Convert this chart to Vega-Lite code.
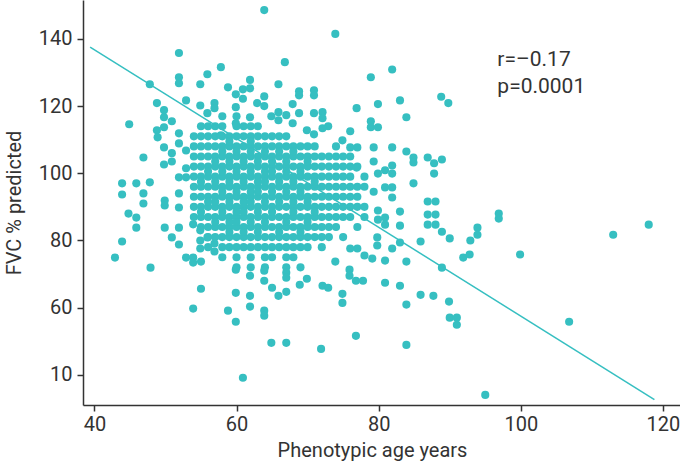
{
"$schema": "https://vega.github.io/schema/vega-lite/v6.json",
"width": 597,
"height": 405,
"autosize": {"type": "none"},
"padding": {"left": 83, "top": 0, "right": 0, "bottom": 63},
"background": "white",
"view": {"stroke": null},
"config": {
  "font": "Roboto",
  "axis": {"grid": false, "domainColor": "#333333", "domainWidth": 1.5, "tickColor": "#333333", "tickWidth": 1.5, "tickSize": 6, "labelColor": "#333333", "titleColor": "#333333", "labelFont": "Roboto", "titleFont": "Roboto", "labelFontSize": 20, "titleFontSize": 20, "titleFontWeight": "normal"}
},
"datasets": {
"pts": [
{"age":54,"fvc":87},{"age":54,"fvc":90},{"age":54,"fvc":93},{"age":54,"fvc":96},{"age":54,"fvc":99},{"age":54,"fvc":102},{"age":54,"fvc":105},{"age":54,"fvc":108},{"age":54,"fvc":111},
{"age":55,"fvc":84},{"age":55,"fvc":87},{"age":55,"fvc":90},{"age":55,"fvc":93},{"age":55,"fvc":96},{"age":55,"fvc":99},{"age":55,"fvc":102},{"age":55,"fvc":105},{"age":55,"fvc":108},{"age":55,"fvc":111},{"age":55,"fvc":114},
{"age":56,"fvc":78},{"age":56,"fvc":81},{"age":56,"fvc":84},{"age":56,"fvc":87},{"age":56,"fvc":90},{"age":56,"fvc":93},{"age":56,"fvc":96},{"age":56,"fvc":99},{"age":56,"fvc":102},{"age":56,"fvc":105},{"age":56,"fvc":108},{"age":56,"fvc":111},{"age":56,"fvc":114},
{"age":57,"fvc":81},{"age":57,"fvc":84},{"age":57,"fvc":87},{"age":57,"fvc":90},{"age":57,"fvc":93},{"age":57,"fvc":96},{"age":57,"fvc":99},{"age":57,"fvc":102},{"age":57,"fvc":105},{"age":57,"fvc":108},{"age":57,"fvc":111},{"age":57,"fvc":114},
{"age":58,"fvc":75},{"age":58,"fvc":78},{"age":58,"fvc":81},{"age":58,"fvc":84},{"age":58,"fvc":87},{"age":58,"fvc":90},{"age":58,"fvc":93},{"age":58,"fvc":96},{"age":58,"fvc":99},{"age":58,"fvc":102},{"age":58,"fvc":105},{"age":58,"fvc":108},{"age":58,"fvc":111},{"age":58,"fvc":114},{"age":58,"fvc":117},
{"age":59,"fvc":78},{"age":59,"fvc":81},{"age":59,"fvc":84},{"age":59,"fvc":87},{"age":59,"fvc":90},{"age":59,"fvc":93},{"age":59,"fvc":96},{"age":59,"fvc":99},{"age":59,"fvc":102},{"age":59,"fvc":105},{"age":59,"fvc":108},{"age":59,"fvc":111},
{"age":60,"fvc":72},{"age":60,"fvc":75},{"age":60,"fvc":78},{"age":60,"fvc":81},{"age":60,"fvc":84},{"age":60,"fvc":87},{"age":60,"fvc":90},{"age":60,"fvc":93},{"age":60,"fvc":96},{"age":60,"fvc":99},{"age":60,"fvc":102},{"age":60,"fvc":105},{"age":60,"fvc":108},{"age":60,"fvc":111},{"age":60,"fvc":114},{"age":60,"fvc":117},
{"age":61,"fvc":78},{"age":61,"fvc":81},{"age":61,"fvc":84},{"age":61,"fvc":87},{"age":61,"fvc":90},{"age":61,"fvc":93},{"age":61,"fvc":96},{"age":61,"fvc":99},{"age":61,"fvc":102},{"age":61,"fvc":105},{"age":61,"fvc":108},{"age":61,"fvc":111},{"age":61,"fvc":114},
{"age":62,"fvc":72},{"age":62,"fvc":75},{"age":62,"fvc":78},{"age":62,"fvc":81},{"age":62,"fvc":84},{"age":62,"fvc":87},{"age":62,"fvc":90},{"age":62,"fvc":93},{"age":62,"fvc":96},{"age":62,"fvc":99},{"age":62,"fvc":102},{"age":62,"fvc":105},{"age":62,"fvc":108},{"age":62,"fvc":111},{"age":62,"fvc":114},
{"age":63,"fvc":78},{"age":63,"fvc":81},{"age":63,"fvc":84},{"age":63,"fvc":87},{"age":63,"fvc":90},{"age":63,"fvc":93},{"age":63,"fvc":96},{"age":63,"fvc":99},{"age":63,"fvc":102},{"age":63,"fvc":105},{"age":63,"fvc":108},{"age":63,"fvc":111},{"age":63,"fvc":114},
{"age":64,"fvc":72},{"age":64,"fvc":75},{"age":64,"fvc":78},{"age":64,"fvc":81},{"age":64,"fvc":84},{"age":64,"fvc":87},{"age":64,"fvc":90},{"age":64,"fvc":93},{"age":64,"fvc":96},{"age":64,"fvc":99},{"age":64,"fvc":102},{"age":64,"fvc":105},{"age":64,"fvc":108},{"age":64,"fvc":111},
{"age":65,"fvc":75},{"age":65,"fvc":78},{"age":65,"fvc":81},{"age":65,"fvc":84},{"age":65,"fvc":87},{"age":65,"fvc":90},{"age":65,"fvc":93},{"age":65,"fvc":96},{"age":65,"fvc":99},{"age":65,"fvc":102},{"age":65,"fvc":105},{"age":65,"fvc":108},{"age":65,"fvc":111},
{"age":66,"fvc":78},{"age":66,"fvc":81},{"age":66,"fvc":84},{"age":66,"fvc":87},{"age":66,"fvc":90},{"age":66,"fvc":93},{"age":66,"fvc":96},{"age":66,"fvc":99},{"age":66,"fvc":102},{"age":66,"fvc":105},{"age":66,"fvc":108},{"age":66,"fvc":111},
{"age":67,"fvc":72},{"age":67,"fvc":75},{"age":67,"fvc":78},{"age":67,"fvc":81},{"age":67,"fvc":84},{"age":67,"fvc":87},{"age":67,"fvc":90},{"age":67,"fvc":93},{"age":67,"fvc":96},{"age":67,"fvc":99},{"age":67,"fvc":102},{"age":67,"fvc":105},{"age":67,"fvc":108},{"age":67,"fvc":111},
{"age":68,"fvc":75},{"age":68,"fvc":78},{"age":68,"fvc":81},{"age":68,"fvc":84},{"age":68,"fvc":87},{"age":68,"fvc":90},{"age":68,"fvc":93},{"age":68,"fvc":96},{"age":68,"fvc":99},{"age":68,"fvc":102},{"age":68,"fvc":105},{"age":68,"fvc":108},
{"age":69,"fvc":72},{"age":69,"fvc":78},{"age":69,"fvc":81},{"age":69,"fvc":84},{"age":69,"fvc":87},{"age":69,"fvc":90},{"age":69,"fvc":93},{"age":69,"fvc":96},{"age":69,"fvc":99},{"age":69,"fvc":102},{"age":69,"fvc":105},{"age":69,"fvc":108},
{"age":70,"fvc":78},{"age":70,"fvc":81},{"age":70,"fvc":84},{"age":70,"fvc":87},{"age":70,"fvc":90},{"age":70,"fvc":93},{"age":70,"fvc":96},{"age":70,"fvc":99},{"age":70,"fvc":102},{"age":70,"fvc":105},{"age":70,"fvc":108},
{"age":71,"fvc":81},{"age":71,"fvc":84},{"age":71,"fvc":87},{"age":71,"fvc":90},{"age":71,"fvc":93},{"age":71,"fvc":96},{"age":71,"fvc":99},{"age":71,"fvc":102},{"age":71,"fvc":105},{"age":71,"fvc":108},
{"age":72,"fvc":78},{"age":72,"fvc":81},{"age":72,"fvc":84},{"age":72,"fvc":87},{"age":72,"fvc":90},{"age":72,"fvc":93},{"age":72,"fvc":96},{"age":72,"fvc":99},{"age":72,"fvc":102},{"age":72,"fvc":105},
{"age":73,"fvc":81},{"age":73,"fvc":84},{"age":73,"fvc":87},{"age":73,"fvc":90},{"age":73,"fvc":93},{"age":73,"fvc":96},{"age":73,"fvc":99},{"age":73,"fvc":102},{"age":73,"fvc":105},
{"age":74,"fvc":84},{"age":74,"fvc":87},{"age":74,"fvc":90},{"age":74,"fvc":93},{"age":74,"fvc":96},{"age":74,"fvc":99},{"age":74,"fvc":102},{"age":74,"fvc":105},{"age":74,"fvc":108},
{"age":75,"fvc":81},{"age":75,"fvc":87},{"age":75,"fvc":90},{"age":75,"fvc":93},{"age":75,"fvc":96},{"age":75,"fvc":99},{"age":75,"fvc":102},{"age":75,"fvc":105},
{"age":76,"fvc":87},{"age":76,"fvc":90},{"age":76,"fvc":93},{"age":76,"fvc":96},{"age":76,"fvc":99},{"age":76,"fvc":102},{"age":76,"fvc":105},
{"age":77,"fvc":84},{"age":77,"fvc":90},{"age":77,"fvc":93},{"age":77,"fvc":96},{"age":77,"fvc":102},
{"age":78,"fvc":87},{"age":78,"fvc":90},{"age":78,"fvc":96},{"age":78,"fvc":99},
{"age":57,"fvc":85.5},{"age":57,"fvc":91.5},{"age":57,"fvc":97.5},{"age":57,"fvc":103.5},
{"age":58,"fvc":88.5},{"age":58,"fvc":94.5},{"age":58,"fvc":100.5},{"age":58,"fvc":106.5},
{"age":59,"fvc":82.5},{"age":59,"fvc":85.5},{"age":59,"fvc":91.5},{"age":59,"fvc":97.5},{"age":59,"fvc":103.5},{"age":59,"fvc":109.5},
{"age":60,"fvc":85.5},{"age":60,"fvc":88.5},{"age":60,"fvc":94.5},{"age":60,"fvc":100.5},{"age":60,"fvc":106.5},
{"age":61,"fvc":82.5},{"age":61,"fvc":88.5},{"age":61,"fvc":91.5},{"age":61,"fvc":97.5},{"age":61,"fvc":103.5},
{"age":62,"fvc":85.5},{"age":62,"fvc":91.5},{"age":62,"fvc":94.5},{"age":62,"fvc":100.5},{"age":62,"fvc":106.5},{"age":62,"fvc":109.5},
{"age":63,"fvc":82.5},{"age":63,"fvc":88.5},{"age":63,"fvc":94.5},{"age":63,"fvc":97.5},{"age":63,"fvc":103.5},
{"age":64,"fvc":85.5},{"age":64,"fvc":91.5},{"age":64,"fvc":97.5},{"age":64,"fvc":100.5},{"age":64,"fvc":106.5},
{"age":65,"fvc":88.5},{"age":65,"fvc":94.5},{"age":65,"fvc":100.5},{"age":65,"fvc":103.5},
{"age":66,"fvc":82.5},{"age":66,"fvc":91.5},{"age":66,"fvc":97.5},{"age":66,"fvc":106.5},
{"age":67,"fvc":85.5},{"age":67,"fvc":94.5},{"age":67,"fvc":100.5},{"age":67,"fvc":103.5},
{"age":68,"fvc":88.5},{"age":68,"fvc":91.5},{"age":68,"fvc":97.5},{"age":68,"fvc":106.5},
{"age":69,"fvc":82.5},{"age":69,"fvc":94.5},{"age":69,"fvc":100.5},
{"age":70,"fvc":85.5},{"age":70,"fvc":91.5},{"age":70,"fvc":103.5},
{"age":71,"fvc":88.5},{"age":71,"fvc":97.5},
{"age":55,"fvc":88.5},{"age":55,"fvc":97.5},
{"age":56,"fvc":91.5},{"age":56,"fvc":100.5},
{"age":63.9,"fvc":148.6},{"age":73.9,"fvc":141.5},{"age":51.9,"fvc":135.8},{"age":66.8,"fvc":133.1},{"age":57.8,"fvc":131.6},{"age":81.9,"fvc":130.9},{"age":55.9,"fvc":129.5},{"age":78.9,"fvc":128.6},{"age":61.9,"fvc":127.8},{"age":51.9,"fvc":128.6},{"age":51.9,"fvc":126.8},{"age":47.8,"fvc":126.5},{"age":54.9,"fvc":126.5},{"age":65.9,"fvc":126.5},{"age":58.8,"fvc":125.6},{"age":61.9,"fvc":125.3},{"age":60.9,"fvc":125},{"age":68.8,"fvc":124.4},{"age":68.8,"fvc":123.2},{"age":70.9,"fvc":124.7},{"age":70.9,"fvc":123.2},{"age":59.9,"fvc":123.5},{"age":60.9,"fvc":122.2},{"age":63.9,"fvc":122.9},{"age":88.8,"fvc":122.8},{"age":89.8,"fvc":120.9},{"age":48.8,"fvc":120.9},{"age":52.9,"fvc":121.7},{"age":83,"fvc":121.7},{"age":79.9,"fvc":120.6},{"age":62.9,"fvc":120.9},{"age":67.9,"fvc":120.6},{"age":56.9,"fvc":120.9},{"age":54.9,"fvc":120.2},{"age":56.9,"fvc":119.4},{"age":59.9,"fvc":119.7},{"age":63.9,"fvc":120},{"age":76.9,"fvc":119.4},{"age":49.8,"fvc":118.8},{"age":49.8,"fvc":116.7},{"age":55.9,"fvc":117.9},{"age":68.8,"fvc":117.9},{"age":70.9,"fvc":117.9},{"age":72.1,"fvc":118.2},{"age":72.1,"fvc":116.4},{"age":65.9,"fvc":118.2},{"age":61.9,"fvc":116.7},{"age":64.9,"fvc":117},{"age":67,"fvc":117.3},{"age":83.9,"fvc":116.7},{"age":78.9,"fvc":115.5},{"age":50.9,"fvc":115.5},{"age":65.9,"fvc":115.8},{"age":59.9,"fvc":114.9},{"age":67.9,"fvc":114.9},{"age":44.9,"fvc":114.6},{"age":78.9,"fvc":113.7},{"age":79.9,"fvc":113.7},{"age":72.9,"fvc":114},{"age":72.1,"fvc":113.4},{"age":69.9,"fvc":112.8},{"age":76,"fvc":112.5},{"age":48.8,"fvc":112.8},{"age":49.8,"fvc":113.7},{"age":51.9,"fvc":111.9},{"age":57.8,"fvc":111.3},{"age":70.9,"fvc":111.6},{"age":74.9,"fvc":109.8},{"age":51.9,"fvc":108.9},{"age":48.9,"fvc":110.7},{"age":49.8,"fvc":107.7},{"age":52.9,"fvc":106.8},{"age":50.9,"fvc":106},{"age":76,"fvc":107.7},{"age":77,"fvc":107.7},{"age":79.3,"fvc":107.7},{"age":81.9,"fvc":107.7},{"age":83.9,"fvc":106.5},{"age":46.9,"fvc":104.7},{"age":50.9,"fvc":103.5},{"age":49.8,"fvc":102.6},{"age":52.9,"fvc":101.5},{"age":84.9,"fvc":104.7},{"age":84.9,"fvc":103.2},{"age":86.9,"fvc":104.7},{"age":87.8,"fvc":103},{"age":88.9,"fvc":104.1},{"age":87.8,"fvc":99.9},{"age":79.3,"fvc":103.5},{"age":81.9,"fvc":102.3},{"age":81.9,"fvc":99.9},{"age":80.9,"fvc":100.9},{"age":79.9,"fvc":99.9},{"age":76.9,"fvc":101.7},{"age":51.9,"fvc":98.8},{"age":52.9,"fvc":98.8},{"age":43.9,"fvc":97},{"age":45.9,"fvc":97},{"age":47.8,"fvc":97.3},{"age":84.9,"fvc":97},{"age":80.9,"fvc":95.8},{"age":81.9,"fvc":95.8},{"age":81.9,"fvc":92.8},{"age":79.3,"fvc":94.5},{"age":43.9,"fvc":93.7},{"age":46.9,"fvc":94},{"age":46.9,"fvc":91},{"age":51.9,"fvc":94},{"age":49.9,"fvc":91.9},{"age":49.9,"fvc":90.4},{"age":51.9,"fvc":89.8},{"age":53.9,"fvc":84.8},{"age":44.8,"fvc":88},{"age":45.9,"fvc":86.8},{"age":45.9,"fvc":83.8},{"age":49.9,"fvc":83.8},{"age":51.9,"fvc":83.8},{"age":86.9,"fvc":91.6},{"age":88,"fvc":91.6},{"age":86.9,"fvc":87.7},{"age":88,"fvc":87.7},{"age":86.9,"fvc":84.7},{"age":88,"fvc":84.7},{"age":83,"fvc":88.6},{"age":83,"fvc":84.4},{"age":79.9,"fvc":88.9},{"age":79.9,"fvc":86.2},{"age":80.9,"fvc":86.8},{"age":80.9,"fvc":84.7},{"age":88.9,"fvc":82.6},{"age":90,"fvc":80.6},{"age":85.9,"fvc":79.7},{"age":83,"fvc":79.4},{"age":79.8,"fvc":80.9},{"age":79.8,"fvc":78.5},{"age":81.9,"fvc":77.6},{"age":54.9,"fvc":83},{"age":54.9,"fvc":80},{"age":54.9,"fvc":77.6},{"age":55.9,"fvc":80.9},{"age":56.9,"fvc":79.1},{"age":56.9,"fvc":76.7},{"age":50.9,"fvc":80.9},{"age":51.9,"fvc":78.8},{"age":43.9,"fvc":79.7},{"age":42.9,"fvc":74.9},{"age":47.9,"fvc":71.9},{"age":52.9,"fvc":74.9},{"age":53.9,"fvc":74.9},{"age":53.9,"fvc":73.4},{"age":55,"fvc":73.7},{"age":76,"fvc":77.6},{"age":77,"fvc":77.6},{"age":78,"fvc":75.5},{"age":79.1,"fvc":74.6},{"age":80.9,"fvc":74},{"age":83.9,"fvc":73.7},{"age":88.9,"fvc":71.9},{"age":91.9,"fvc":74.9},{"age":92.8,"fvc":75.8},{"age":93.9,"fvc":83.8},{"age":93.9,"fvc":81.7},{"age":92.9,"fvc":80},{"age":96.9,"fvc":88},{"age":96.9,"fvc":86.5},{"age":99.9,"fvc":75.8},{"age":113,"fvc":81.7},{"age":118,"fvc":84.7},{"age":106.8,"fvc":55.8},{"age":95,"fvc":34},{"age":73.9,"fvc":73.7},{"age":75.9,"fvc":71.3},{"age":75.9,"fvc":69.5},{"age":76.8,"fvc":68},{"age":77.8,"fvc":68},{"age":80.9,"fvc":67.4},{"age":83,"fvc":66.5},{"age":83.9,"fvc":60.9},{"age":85.9,"fvc":63.8},{"age":87.7,"fvc":63.5},{"age":89.9,"fvc":61.8},{"age":90,"fvc":57},{"age":91,"fvc":57},{"age":91,"fvc":54.9},{"age":83.9,"fvc":48.9},{"age":76.8,"fvc":51.6},{"age":74.9,"fvc":64.1},{"age":74.9,"fvc":61.4},{"age":72.1,"fvc":66.5},{"age":72.9,"fvc":65.9},{"age":69.9,"fvc":68.6},{"age":68.9,"fvc":66.8},{"age":67,"fvc":70.4},{"age":67,"fvc":68.9},{"age":65,"fvc":65.9},{"age":65.9,"fvc":63.5},{"age":67,"fvc":64.7},{"age":63.9,"fvc":71},{"age":63.9,"fvc":68},{"age":61.9,"fvc":69.5},{"age":59.9,"fvc":71.3},{"age":55,"fvc":65.6},{"age":59.9,"fvc":64.4},{"age":61.9,"fvc":63.5},{"age":61.9,"fvc":60.3},{"age":58.8,"fvc":59.1},{"age":59.9,"fvc":55.8},{"age":63.9,"fvc":59.1},{"age":63.9,"fvc":57.6},{"age":53.9,"fvc":59.7},{"age":64.9,"fvc":49.5},{"age":67,"fvc":49.5},{"age":71.9,"fvc":47.7},{"age":60.9,"fvc":39.1}
],
"fit": [{"age": 39.4, "fvc": 137.6}, {"age": 118.8, "fvc": 32.6}],
"ann": [{"age": 96.7, "fvc": 131.9, "label": "r=–0.17"}, {"age": 96.7, "fvc": 123.9, "label": "p=0.0001"}]
},
"layer": [
  {
    "data": {"name": "pts"},
    "mark": {"type": "circle", "size": 66, "color": "#36bfc1", "opacity": 1},
    "encoding": {
      "x": {"field": "age", "type": "quantitative", "scale": {"domain": [38.4, 122.4], "nice": false, "zero": false}, "axis": {"values": [40, 60, 80, 100, 120], "title": "Phenotypic age years", "labelPadding": 3, "titlePadding": 6, "titleX": 289, "titleAlign": "center"}},
      "y": {"field": "fvc", "type": "quantitative", "scale": {"domain": [31, 151.6], "nice": false, "zero": false}, "axis": {"values": [40, 60, 80, 100, 120, 140], "labelExpr": "datum.value == 40 ? '10' : datum.label", "title": "FVC % predicted", "labelPadding": 5, "titlePadding": 14}}
    }
  },
  {
    "data": {"name": "fit"},
    "mark": {"type": "line", "color": "#36bfc1", "strokeWidth": 1.5},
    "encoding": {
      "x": {"field": "age", "type": "quantitative"},
      "y": {"field": "fvc", "type": "quantitative"}
    }
  },
  {
    "data": {"name": "ann"},
    "mark": {"type": "text", "align": "left", "baseline": "alphabetic", "fontSize": 21, "font": "Roboto", "color": "#333333"},
    "encoding": {
      "x": {"field": "age", "type": "quantitative"},
      "y": {"field": "fvc", "type": "quantitative"},
      "text": {"field": "label", "type": "nominal"}
    }
  }
]
}
